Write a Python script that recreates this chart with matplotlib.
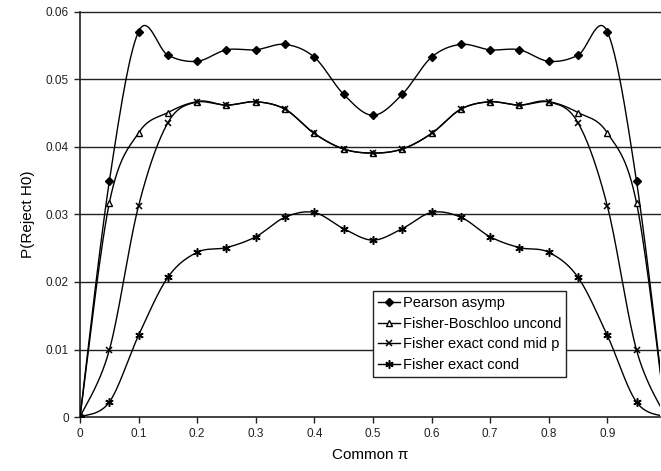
import numpy as np
import matplotlib.pyplot as plt

plt.rcParams['font.family'] = ['Liberation Sans', 'DejaVu Sans']

pi_vals = np.round(np.arange(0, 1.0001, 0.05), 2)

# values for pi = 0 .. 0.5, mirrored for the other half
pearson_half = [0.0, 0.0349, 0.0571, 0.0536, 0.0527, 0.0544, 0.0544, 0.0552, 0.0533, 0.0478, 0.0447]
boschloo_half = [0.0, 0.0317, 0.0421, 0.0451, 0.0467, 0.0462, 0.0467, 0.0456, 0.0420, 0.0397, 0.0391]
midp_half = [0.0, 0.0099, 0.0313, 0.0436, 0.0467, 0.0462, 0.0467, 0.0456, 0.0420, 0.0397, 0.0391]
exact_half = [0.0, 0.0022, 0.0121, 0.0207, 0.0244, 0.0251, 0.0267, 0.0296, 0.0303, 0.0279, 0.0262]

labels = ['Pearson asymp', 'Fisher-Boschloo uncond',
          'Fisher exact cond mid p', 'Fisher exact cond']


def mirror(half):
    return np.array(half + half[-2::-1])


def smooth(x, y, n=30):
    # Excel-like smoothed line (Catmull-Rom bezier)
    xp = np.concatenate([[x[0]], x, [x[-1]]])
    yp = np.concatenate([[y[0]], y, [y[-1]]])
    t = np.linspace(0, 1, n)[:, None]
    xs, ys = [], []
    for i in range(1, len(xp) - 2):
        p0 = np.array([xp[i], yp[i]])
        p3 = np.array([xp[i + 1], yp[i + 1]])
        p1 = p0 + (np.array([xp[i + 1], yp[i + 1]]) - np.array([xp[i - 1], yp[i - 1]])) / 6
        p2 = p3 - (np.array([xp[i + 2], yp[i + 2]]) - np.array([xp[i], yp[i]])) / 6
        pts = ((1 - t) ** 3) * p0 + 3 * ((1 - t) ** 2) * t * p1 + 3 * (1 - t) * t ** 2 * p2 + t ** 3 * p3
        xs.append(pts[:, 0])
        ys.append(pts[:, 1])
    return np.concatenate(xs), np.concatenate(ys)


series = [mirror(pearson_half), mirror(boschloo_half), mirror(midp_half), mirror(exact_half)]
markers = [
    dict(marker='D', markersize=3.6, markerfacecolor='black'),
    dict(marker='^', markersize=4.5, markerfacecolor='white'),
    dict(marker='x', markersize=5, markeredgewidth=1.1),
    dict(marker=(6, 2, 0), markersize=6, markeredgewidth=1.1),
]

fig = plt.figure(figsize=(6.61, 4.71), dpi=100)
ax = fig.add_axes([80 / 661, 1 - 417 / 471, 580 / 661, 405 / 471])

for yv in [0.01, 0.02, 0.03, 0.04, 0.05, 0.06]:
    ax.axhline(yv, color='#222222', lw=1.0, zorder=1, clip_on=False)

handles = []
for vals, mk, lab in zip(series, markers, labels):
    sx, sy = smooth(pi_vals, vals)
    ax.plot(sx, sy, color='black', lw=1.0, zorder=3)
    ax.plot(pi_vals, vals, ls='none', color='black', markeredgecolor='black', zorder=4, **mk)
    h, = ax.plot([], [], color='black', lw=1.0, markeredgecolor='black', **mk)
    handles.append(h)

ax.set_xlim(0, 0.99)
ax.set_ylim(0, 0.06)
ax.set_xticks(np.arange(0, 1.0, 0.1))
ax.set_xticklabels(['0', '0.1', '0.2', '0.3', '0.4', '0.5', '0.6', '0.7', '0.8', '0.9'])
ax.set_yticks([0, 0.01, 0.02, 0.03, 0.04, 0.05, 0.06])
ax.set_yticklabels(['0', '0.01', '0.02', '0.03', '0.04', '0.05', '0.06'])
ax.tick_params(labelsize=8.5, length=4, width=1, colors='#222222', pad=4)
for s in ['top', 'right']:
    ax.spines[s].set_visible(False)
for s in ['left', 'bottom']:
    ax.spines[s].set_color('#222222')
    ax.spines[s].set_linewidth(1.2)

ax.set_xlabel('Common π', fontsize=11, labelpad=6)
ax.set_ylabel('P(Reject H0)', fontsize=11, labelpad=8)

leg = ax.legend(handles, labels, loc='lower left', bbox_to_anchor=(0.505, 0.099),
                fontsize=10.5, frameon=True, fancybox=False, edgecolor='#222222',
                framealpha=1, handlelength=1.5, handletextpad=0.2, labelspacing=0.45,
                borderpad=0.35, borderaxespad=0)
leg.get_frame().set_linewidth(1.0)
leg.set_zorder(5)

fig.savefig('out.png', dpi=100)
